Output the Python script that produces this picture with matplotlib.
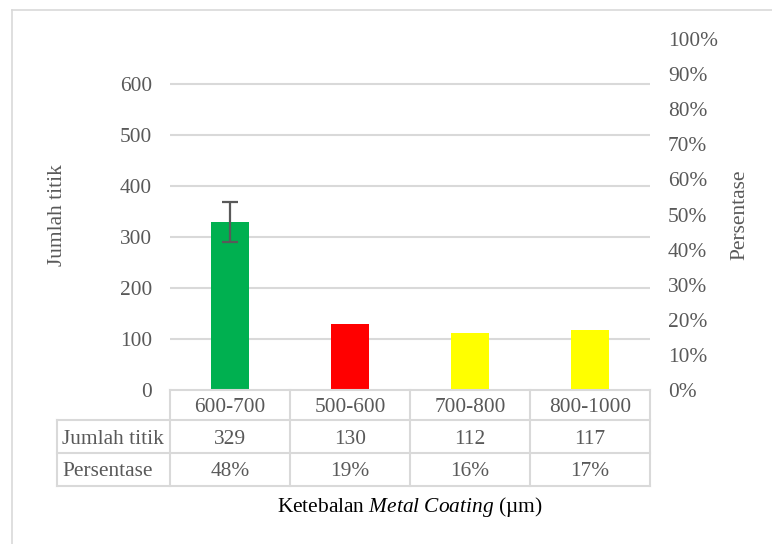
import matplotlib
matplotlib.use("Agg")
import matplotlib.pyplot as plt
from matplotlib.ticker import FuncFormatter, MultipleLocator
from matplotlib.lines import Line2D

# Data
categories = ["600-700", "500-600", "700-800", "800-1000"]
jumlah_titik = [329, 130, 112, 117]
persentase = ["48%", "19%", "16%", "17%"]
bar_colors = ["#00B050", "#FF0000", "#FFFF00", "#FFFF00"]
error_first = 39  # error bar on the first category

W, H = 772, 544
plt.rcParams["font.family"] = ["Liberation Serif", "DejaVu Serif"]
plt.rcParams["mathtext.fontset"] = "custom"
plt.rcParams["mathtext.rm"] = "Liberation Serif"
plt.rcParams["mathtext.it"] = "Liberation Serif:italic"
GRAY = "#595959"
LINE = "#D9D9D9"
FS = 15.4

fig = plt.figure(figsize=(W / 100, H / 100), dpi=100)

def fx(px):
    return px / W

def fy(py):
    return 1 - py / H

# plot area
x0, x1, ybase, ytop = 170, 650, 390, 39
ax = fig.add_axes([fx(x0), fy(ybase), fx(x1) - fx(x0), fy(ytop) - fy(ybase)])
ax.set_xlim(-0.5, len(categories) - 0.5)
ax.set_ylim(0, 688)
for s in ax.spines.values():
    s.set_visible(False)
ax.set_xticks([])
ax.set_yticks(range(0, 700, 100))
ax.tick_params(axis="y", length=0, pad=13, labelsize=FS, labelcolor=GRAY)
for v in range(100, 700, 100):
    ax.axhline(v, color=LINE, lw=1.5, zorder=0)

ax.bar(range(len(categories)), jumlah_titik, width=0.317, color=bar_colors, zorder=2)
ax.errorbar([0], [jumlah_titik[0]], yerr=[[error_first], [error_first]], fmt="none",
            ecolor=GRAY, elinewidth=1.6, capsize=6, capthick=1.6, zorder=3)

ax.text(fx(58), fy(215), "Jumlah titik", transform=fig.transFigure, rotation=90,
        ha="center", va="center", fontsize=FS, color=GRAY)

# secondary percentage axis
ax2 = ax.twinx()
ax2.set_ylim(0, 1)
for s in ax2.spines.values():
    s.set_visible(False)
ax2.yaxis.set_major_locator(MultipleLocator(0.1))
ax2.yaxis.set_major_formatter(FuncFormatter(lambda v, p: f"{v * 100:.0f}%"))
ax2.tick_params(axis="y", length=0, pad=13, labelsize=FS, labelcolor=GRAY)
ax2.text(fx(740), fy(215), "Persentase", transform=fig.transFigure, rotation=90,
         ha="center", va="center", fontsize=FS, color=GRAY)

# data table below the axis
tf = fig.transFigure
rows = [390, 420, 453, 486]
cols = [170, 290, 410, 530, 650]
hx = 57
dy = 2.5  # text sits slightly below the cell middle
def hline(y, xa, xb):
    fig.add_artist(Line2D([fx(xa), fx(xb)], [fy(y), fy(y)], color=LINE, lw=1.5, transform=tf))
def vline(x, ya, yb):
    fig.add_artist(Line2D([fx(x), fx(x)], [fy(ya), fy(yb)], color=LINE, lw=1.5, transform=tf))

hline(rows[0], cols[0], cols[-1])
for y in rows[1:]:
    hline(y, hx, cols[-1])
vline(hx, rows[1], rows[3])
for x in cols:
    vline(x, rows[0], rows[3])

for i, cat in enumerate(categories):
    cx = (cols[i] + cols[i + 1]) / 2
    fig.text(fx(cx), fy((rows[0] + rows[1]) / 2 + dy), cat, ha="center", va="center",
             fontsize=FS, color=GRAY)
    fig.text(fx(cx), fy((rows[1] + rows[2]) / 2 + dy), str(jumlah_titik[i]), ha="center",
             va="center", fontsize=FS, color=GRAY)
    fig.text(fx(cx), fy((rows[2] + rows[3]) / 2 + dy), persentase[i], ha="center",
             va="center", fontsize=FS, color=GRAY)
fig.text(fx(62), fy((rows[1] + rows[2]) / 2 + dy), "Jumlah titik", ha="left", va="center",
         fontsize=FS, color=GRAY)
fig.text(fx(62), fy((rows[2] + rows[3]) / 2 + dy), "Persentase", ha="left", va="center",
         fontsize=FS, color=GRAY)

# axis title
fig.text(fx(410), fy(507), "Ketebalan $\\mathit{Metal\\ Coating}$ (µm)", ha="center",
         va="center", fontsize=FS, color="black")

# chart border
fig.add_artist(Line2D([fx(12), 1], [fy(10), fy(10)], color=LINE, lw=1.2, transform=tf))
fig.add_artist(Line2D([fx(12), fx(12)], [fy(10), 0], color=LINE, lw=1.2, transform=tf))

fig.savefig("out.png", dpi=100)
